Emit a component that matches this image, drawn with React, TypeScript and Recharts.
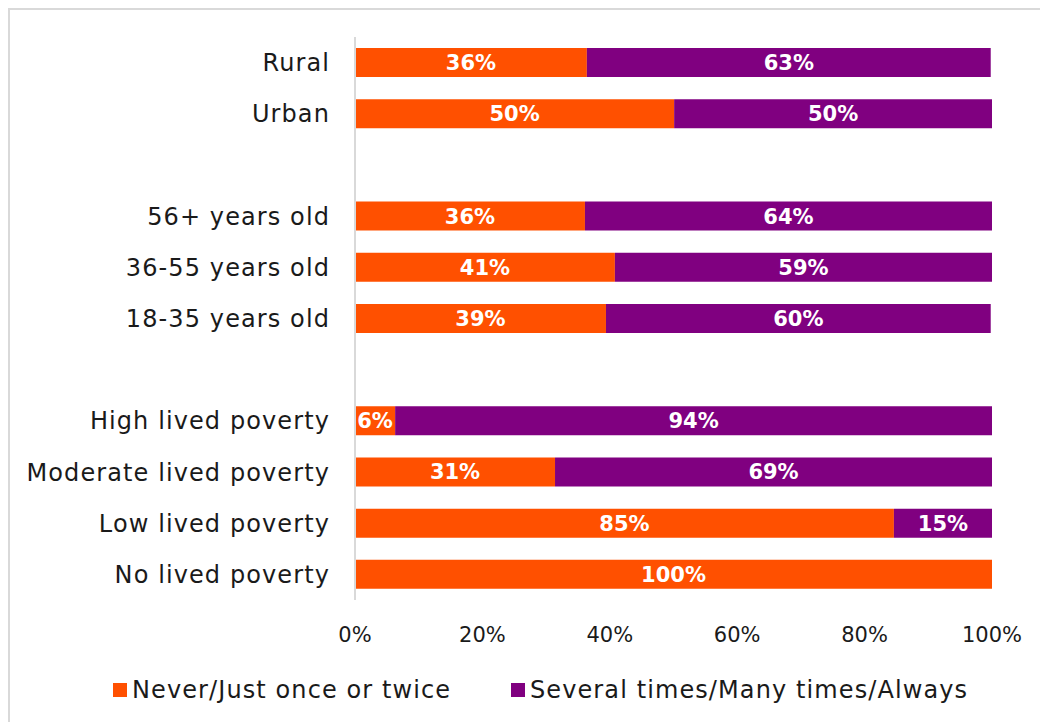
import React from "react";
import { Bar, BarChart, LabelList, XAxis, YAxis } from "recharts";

const categories = [
  "Rural",
  "Urban",
  " ",
  "56+ years old",
  "36-55 years old",
  "18-35 years old",
  "  ",
  "High lived poverty",
  "Moderate lived poverty",
  "Low lived poverty",
  "No lived poverty",
];
const never = [36.4, 50.1, null, 36.1, 40.8, 39.4, null, 6.3, 31.4, 84.6, 100];
const several = [63.4, 49.9, null, 63.9, 59.2, 60.4, null, 93.7, 68.6, 15.4, 0];
const xTicks = [0, 20, 40, 60, 80, 100];
const seriesNames = ["Never/Just once or twice", "Several times/Many times/Always"];
const seriesColors = ["#ff5000", "#800080"];

const data = categories.map((name, i) => ({
  name,
  never: never[i],
  several: several[i],
}));

const FONT = "'DejaVu Sans', sans-serif";

const pct = (v: any) => (v == null || v === 0 ? "" : `${Math.round(v)}%`);

function ChartLegend() {
  return (
    <div
      style={{
        position: "absolute",
        left: 103,
        top: 666,
        display: "flex",
        alignItems: "center",
        fontSize: 24,
        letterSpacing: 1.1,
        color: "#1a1a1a",
        fontFamily: FONT,
        whiteSpace: "nowrap",
      }}
    >
      {seriesNames.map((n, i) => (
        <div
          key={n}
          style={{ display: "flex", alignItems: "center", width: i === 0 ? 398 : "auto" }}
        >
          <span
            style={{
              display: "inline-block",
              width: 14,
              height: 14,
              background: seriesColors[i],
              marginRight: 5,
            }}
          />
          <span>{n}</span>
        </div>
      ))}
    </div>
  );
}

export default function App() {
  return (
    <>
      <style>{"html,body{overflow:hidden;margin:0}"}</style>
      <div
        style={{
          position: "absolute",
          left: 8,
          top: 8,
          width: 1060,
          height: 740,
          borderTop: "2px solid #d9d9d9",
          borderLeft: "2px solid #d9d9d9",
          background: "#fff",
          fontFamily: FONT,
        }}
      >
        <BarChart
          width={1030}
          height={704}
          data={data}
          layout="vertical"
          margin={{ top: 27, right: 48, bottom: 64, left: 0 }}
        >
          <XAxis
            type="number"
            domain={[0, 100]}
            ticks={xTicks}
            tickFormatter={(v) => `${v}%`}
            axisLine={false}
            tickLine={false}
            tickSize={0}
            tickMargin={27}
            height={50}
            tick={{ fill: "#1a1a1a", fontSize: 21, fontFamily: FONT }}
          />
          <YAxis
            type="category"
            dataKey="name"
            width={345}
            axisLine={{ stroke: "#d9d9d9", strokeWidth: 2 }}
            tickLine={false}
            tickSize={0}
            tickMargin={25}
            tick={{ fill: "#1a1a1a", fontSize: 24, letterSpacing: 1.1, fontFamily: FONT }}
          />
          <Bar
            dataKey="never"
            name={seriesNames[0]}
            stackId="a"
            fill={seriesColors[0]}
            barSize={29}
            isAnimationActive={false}
          >
            <LabelList
              dataKey="never"
              position="center"
              formatter={pct}
              fill="#fff"
              style={{ fontSize: 21, fontWeight: 700, fontFamily: FONT }}
            />
          </Bar>
          <Bar
            dataKey="several"
            name={seriesNames[1]}
            stackId="a"
            fill={seriesColors[1]}
            barSize={29}
            isAnimationActive={false}
          >
            <LabelList
              dataKey="several"
              position="center"
              formatter={pct}
              fill="#fff"
              style={{ fontSize: 21, fontWeight: 700, fontFamily: FONT }}
            />
          </Bar>
        </BarChart>
        <ChartLegend />
      </div>
    </>
  );
}
